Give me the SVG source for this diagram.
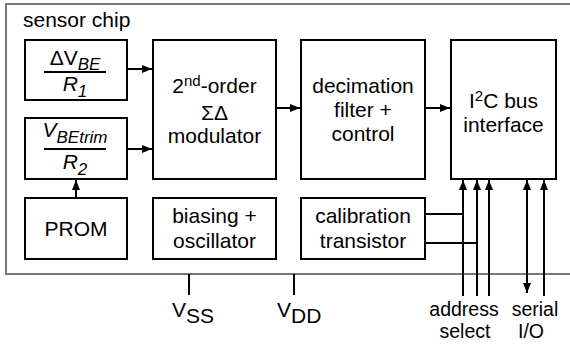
<svg xmlns="http://www.w3.org/2000/svg" width="570" height="347" viewBox="0 0 570 347">
<style>
text{font-family:"Liberation Sans",Arial,sans-serif;font-size:21px;fill:#000}
.m{text-anchor:middle}
.i{font-style:italic}
.s{font-size:19.5px}
.box{fill:#fff;stroke:#000;stroke-width:2}
.ln{fill:none;stroke:#000;stroke-width:2}
.chip{fill:none;stroke:#777;stroke-width:2}
</style>
<defs>
<marker id="ah" viewBox="0 0 10 8" refX="10" refY="4" markerWidth="10" markerHeight="8" markerUnits="userSpaceOnUse" orient="auto-start-reverse">
<path d="M0,0 L10,4 L0,8 Z" fill="#000"/>
</marker>
</defs>
<path class="chip" d="M572,4 H6 V274 H572"/>
<text x="23" y="27">sensor chip</text>
<g id="dvbe">
<rect class="box" x="25" y="40" width="102" height="60"/>
<text class="m" x="75" y="65">ΔV<tspan class="i" dy="5" font-size="17">BE</tspan></text>
<line class="ln" x1="44" y1="72" x2="106" y2="72"/>
<text class="m i" x="75" y="91">R<tspan dy="6" font-size="17">1</tspan></text>
</g>
<g id="vbetrim">
<rect class="box" x="25" y="118" width="102" height="61"/>
<text class="m i" x="75" y="137">V<tspan dy="6" font-size="17">BEtrim</tspan></text>
<line class="ln" x1="44" y1="149" x2="106" y2="149"/>
<text class="m i" x="75" y="169">R<tspan dy="6" font-size="17">2</tspan></text>
</g>
<g id="prom">
<rect class="box" x="25" y="198" width="102" height="61"/>
<text class="m" x="76" y="236">PROM</text>
</g>
<g id="modulator">
<rect class="box" x="153" y="40" width="123" height="139"/>
<text class="m" x="214.5" y="93">2<tspan dy="-7" font-size="15">nd</tspan><tspan dy="7">-order</tspan></text>
<text class="m" x="214.5" y="120" font-size="19" font-family="'Liberation Serif',serif">ΣΔ</text>
<text class="m" x="214.5" y="143">modulator</text>
</g>
<g id="biasing">
<rect class="box" x="153" y="198" width="123" height="61"/>
<text class="m" x="214.5" y="223">biasing +</text>
<text class="m" x="214.5" y="248">oscillator</text>
</g>
<g id="decimation">
<rect class="box" x="301" y="40" width="124" height="139"/>
<text class="m" x="363" y="93">decimation</text>
<text class="m" x="363" y="117">filter +</text>
<text class="m" x="363" y="141">control</text>
</g>
<g id="i2c">
<rect class="box" x="451" y="40" width="105" height="139"/>
<text class="m" x="503.5" y="108">I<tspan dy="-7" font-size="15">2</tspan><tspan dy="7">C bus</tspan></text>
<text class="m" x="503.5" y="132">interface</text>
</g>
<g id="calibration">
<rect class="box" x="301" y="198" width="124" height="61"/>
<text class="m" x="363" y="223">calibration</text>
<text class="m" x="363" y="248">transistor</text>
</g>
<g id="connectors">
<line class="ln" x1="127" y1="69" x2="152" y2="69" marker-end="url(#ah)"/>
<line class="ln" x1="127" y1="149" x2="152" y2="149" marker-end="url(#ah)"/>
<line class="ln" x1="76" y1="198" x2="76" y2="180" marker-end="url(#ah)"/>
<line class="ln" x1="276" y1="108" x2="300" y2="108" marker-end="url(#ah)"/>
<line class="ln" x1="425" y1="108" x2="450" y2="108" marker-end="url(#ah)"/>
<line class="ln" x1="463" y1="296" x2="463" y2="180" marker-end="url(#ah)"/>
<line class="ln" x1="477" y1="296" x2="477" y2="180" marker-end="url(#ah)"/>
<line class="ln" x1="489" y1="296" x2="489" y2="180" marker-end="url(#ah)"/>
<line class="ln" x1="527" y1="293" x2="527" y2="180" marker-start="url(#ah)" marker-end="url(#ah)"/>
<line class="ln" x1="544" y1="296" x2="544" y2="180" marker-end="url(#ah)"/>
<line class="ln" x1="425" y1="214" x2="463" y2="214"/>
<line class="ln" x1="425" y1="243" x2="477" y2="243"/>
<line class="ln" x1="189" y1="274" x2="189" y2="295"/>
<line class="ln" x1="294" y1="274" x2="294" y2="295"/>
</g>
<text x="172" y="317">V<tspan dy="6">SS</tspan></text>
<text x="277" y="317">V<tspan dy="6">DD</tspan></text>
<text class="m s" x="464" y="316">address</text>
<text class="m s" x="465" y="338">select</text>
<text class="m s" x="535" y="316">serial</text>
<text class="m s" x="531" y="338">I/O</text>
</svg>
